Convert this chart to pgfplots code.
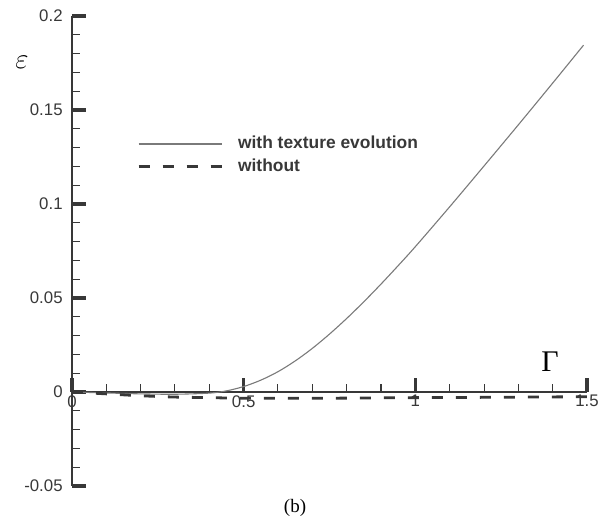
\documentclass[border=0pt]{standalone}
\usepackage{pgfplots}
\pgfplotsset{compat=1.18}
\usepackage{fontspec}
\setmainfont{Liberation Sans}
\newfontfamily\seriffont{Liberation Serif}
\definecolor{ink}{HTML}{383838}
\definecolor{curve}{HTML}{7A7A7A}
\begin{document}
\begin{tikzpicture}
\path[use as bounding box] (-36pt,-18pt) rectangle (269.5pt,243pt);
\begin{axis}[
 scale only axis, width=257.5pt, height=235pt,
 at={(0,0)}, anchor=south west,
 xmin=0, xmax=1.5, ymin=-0.05, ymax=0.2,
 axis x line=middle, axis y line=left,
 axis line style={-, ink, line width=0.6pt},
 xtick={0,0.5,1,1.5}, xticklabels={0,0.5,1,1.5},
 ytick={-0.05,0,0.05,0.1,0.15,0.2}, yticklabels={-0.05,0,0.05,0.1,0.15,0.2},
 minor x tick num=4, minor y tick num=4,
 tick align=inside,
 major tick length=7pt, minor tick length=4pt,
 major tick style={ink, line width=1.6pt},
 minor tick style={ink, line width=0.5pt},
 hide obscured x ticks=false, hide obscured y ticks=false,
 ticklabel style={font=\fontsize{8.4}{10}\selectfont, text=ink},
 xticklabel style={anchor=north, inner sep=0pt, yshift=-1.5pt},
 yticklabel style={anchor=east, inner sep=0pt, xshift=-4.5pt},
 clip=false,
 legend style={draw=none, fill=none, at={(0.126,0.7036)}, anchor=west,
   font=\bfseries\fontsize{8.7}{10}\selectfont, text=ink, inner sep=0pt,
   nodes={inner sep=0pt, text height=6.5pt, text depth=1.8pt},
   row sep=3pt, /tikz/every odd column/.style={column sep=7.5pt}},
 legend cell align=left,
 legend image code/.code={\draw[#1] (0pt,0pt) -- (41.5pt,0pt);},
]
\addplot[curve, line width=0.55pt, smooth] coordinates {
 (0,0) (0.1,-0.0005) (0.2,-0.001) (0.3,-0.0012) (0.4,-0.0006) (0.45,0.0006)
 (0.5,0.0029) (0.55,0.0063) (0.6,0.0108) (0.65,0.0165) (0.7,0.0232)
 (0.75,0.0308) (0.8,0.0391) (0.85,0.048) (0.9,0.0574) (0.95,0.0672)
 (1.0,0.0773) (1.1,0.0985) (1.2,0.1202) (1.3,0.1421) (1.4,0.1643) (1.49,0.1845)};
\addlegendentry{with texture evolution}
\addplot[ink, line width=1.4pt, dash pattern=on 5.5pt off 6.5pt, smooth] coordinates {
 (0,0) (0.1,-0.001) (0.2,-0.002) (0.3,-0.0027) (0.4,-0.003) (0.5,-0.0033)
 (0.75,-0.0033) (1.0,-0.003) (1.25,-0.0028) (1.5,-0.0025)};
\addlegendentry{without}
\end{axis}
\node at (-25pt,212pt) {\fontsize{14.5}{15}\selectfont$\varepsilon$};
\node at (239pt,62pt) {\seriffont\fontsize{15}{15}\selectfont Γ};
\node at (111.5pt,-11pt) {\seriffont\fontsize{9.5}{10}\selectfont (b)};
\end{tikzpicture}
\end{document}
